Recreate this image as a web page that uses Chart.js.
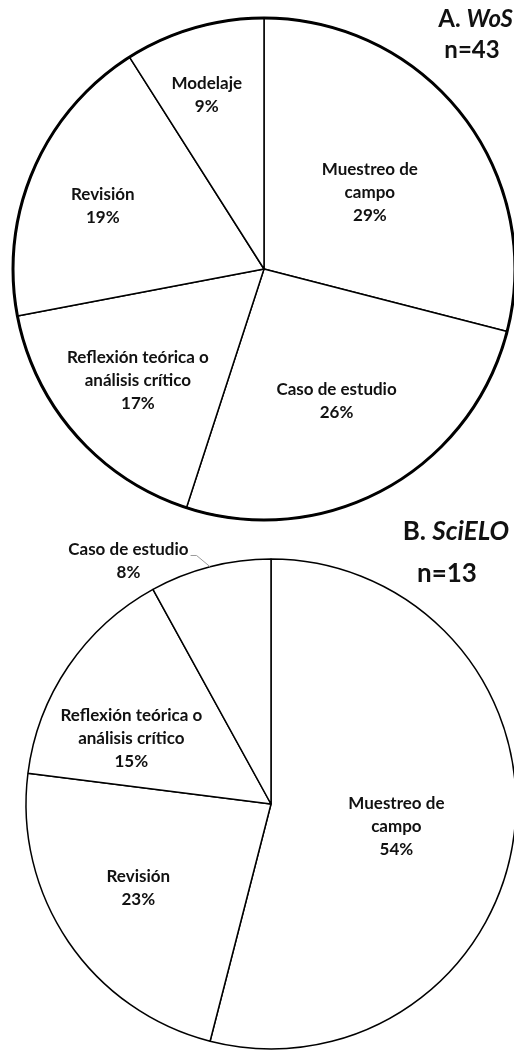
<!DOCTYPE html>
<html>
<head>
  <meta charset="utf-8">
  <style>
    html, body { margin: 0; padding: 0; background: #fff; overflow: hidden; }
    #page { position: relative; width: 514px; height: 1050px; }
    canvas { position: absolute; left: 0; }
    .ttl { position: absolute; font-family: Lato, sans-serif; font-weight: bold; color: #111; white-space: nowrap; }
    .a { font-size: 24px; line-height: 24px; }
    .b { font-size: 26px; line-height: 26px; }
  </style>
</head>
<body>
  <div id="page">
    <canvas id="wosChart" width="514" height="540" style="top:0"></canvas>
    <canvas id="scieloChart" width="514" height="510" style="top:540px"></canvas>
    <div class="ttl a" style="right:1px; top:6px">A. <i>WoS</i></div>
    <div class="ttl a" style="left:422px; width:100px; text-align:center; top:37px">n=43</div>
    <div class="ttl b" style="right:5px; top:517px">B. <i>SciELO</i></div>
    <div class="ttl b" style="left:397px; width:100px; text-align:center; top:559px">n=13</div>
  </div>

  <script src="https://cdn.jsdelivr.net/npm/chart.js@4.4.0/dist/chart.umd.min.js"></script>
  <script>
    // A. WoS (n=43), clockwise from 12 o'clock
    var wosLabels = [['Muestreo de', 'campo'], ['Caso de estudio'], ['Reflexión teórica o', 'análisis crítico'], ['Revisión'], ['Modelaje']];
    var wosValues = [29, 26, 17, 19, 9];

    // B. SciELO (n=13)
    var scieloLabels = [['Muestreo de', 'campo'], ['Revisión'], ['Reflexión teórica o', 'análisis crítico'], ['Caso de estudio']];
    var scieloValues = [54, 23, 15, 8];

    // label placement: [fraction of radius, angle shift in degrees]
    var wosPlace = [[0.52, 2], [0.60, 0], [0.67, 0], [0.69, -2], [0.73, -2]];
    var scieloPlace = [[0.52, 3], [0.64, 2], [0.63, -9], [1.15, -16]];

    function sliceLabels(place, leader, ring) {
      return {
        id: 'sliceLabels',
        afterDatasetsDraw: function(chart) {
          var ctx = chart.ctx;
          var meta = chart.getDatasetMeta(0);
          var vals = chart.data.datasets[0].data;
          ctx.save();
          if (ring) {
            var a0 = meta.data[0].getProps(['x', 'y', 'outerRadius'], true);
            ctx.beginPath();
            ctx.lineWidth = ring;
            ctx.strokeStyle = '#000';
            ctx.arc(a0.x, a0.y, a0.outerRadius, 0, Math.PI * 2);
            ctx.stroke();
          }
          ctx.font = 'bold 17px Lato';
          ctx.fillStyle = '#111';
          ctx.textAlign = 'center';
          ctx.textBaseline = 'middle';
          meta.data.forEach(function(el, i) {
            var arc = el.getProps(['x', 'y', 'startAngle', 'endAngle', 'outerRadius'], true);
            var p = place[i];
            var mid = (arc.startAngle + arc.endAngle) / 2;
            var a = mid + p[1] * Math.PI / 180;
            var x = arc.x + Math.cos(a) * arc.outerRadius * p[0];
            var y = arc.y + Math.sin(a) * arc.outerRadius * p[0];
            var lines = chart.data.labels[i].concat([vals[i] + '%']);
            var top = y - (lines.length - 1) * 23 / 2;
            lines.forEach(function(t, k) {
              ctx.fillText(t, x, top + k * 23);
            });
            if (leader === i) {
              var w = ctx.measureText(lines[0]).width;
              var x0 = x + w / 2 + 2, y0 = top + 6;
              ctx.beginPath();
              ctx.strokeStyle = '#9a9a9a';
              ctx.lineWidth = 1;
              ctx.moveTo(x0, y0);
              ctx.lineTo(x0 + 6, y0);
              ctx.lineTo(arc.x + Math.cos(mid) * arc.outerRadius, arc.y + Math.sin(mid) * arc.outerRadius);
              ctx.stroke();
            }
          });
          ctx.restore();
        }
      };
    }

    function makePie(id, labels, values, radius, padding, borderWidth, plugin) {
      return new Chart(document.getElementById(id), {
        type: 'pie',
        data: {
          labels: labels,
          datasets: [{
            data: values,
            backgroundColor: '#ffffff',
            borderColor: '#000000',
            borderWidth: borderWidth
          }]
        },
        options: {
          responsive: false,
          animation: false,
          events: [],
          radius: radius,
          layout: { padding: padding },
          plugins: { legend: { display: false }, tooltip: { enabled: false } }
        },
        plugins: [plugin]
      });
    }

    makePie('wosChart', wosLabels, wosValues, 251,
      { left: 14, right: 0, top: 0, bottom: 2 }, 1.5, sliceLabels(wosPlace, -1, 3));
    makePie('scieloChart', scieloLabels, scieloValues, 245,
      { left: 28, right: 0, top: 18, bottom: 0 }, 1.5, sliceLabels(scieloPlace, 3, 0));
  </script>
</body>
</html>
